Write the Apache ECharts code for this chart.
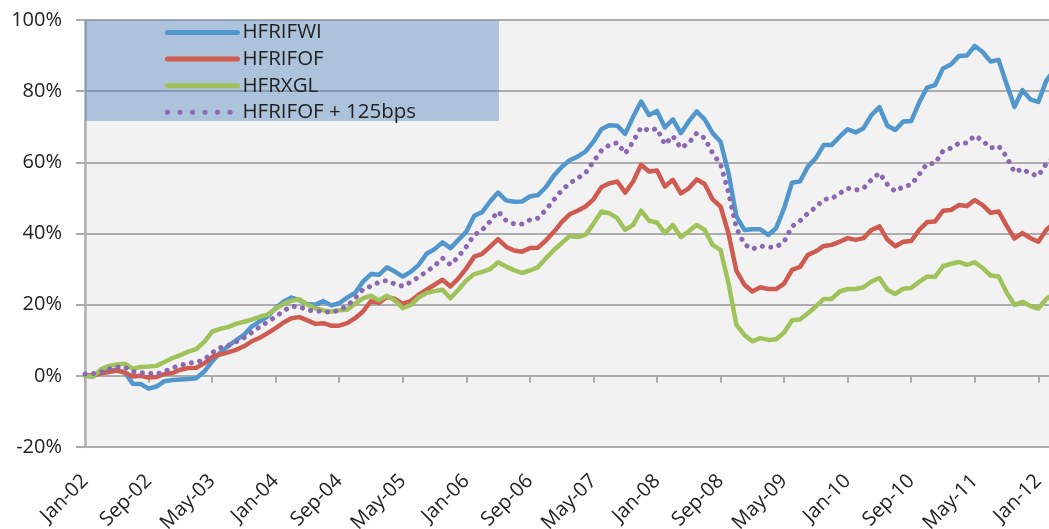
<!DOCTYPE html>
<html>
<head>
<meta charset="utf-8">
<script src="https://cdn.jsdelivr.net/npm/echarts@6/dist/echarts.min.js"></script>
<style>
html,body{margin:0;padding:0;background:#fff;}
#chart{width:1049px;height:529px;}
</style>
</head>
<body>
<div id="chart"></div>
<script>
const categories = [
'Jan-02','Feb-02','Mar-02','Apr-02','May-02','Jun-02','Jul-02','Aug-02','Sep-02','Oct-02','Nov-02','Dec-02',
'Jan-03','Feb-03','Mar-03','Apr-03','May-03','Jun-03','Jul-03','Aug-03','Sep-03','Oct-03','Nov-03','Dec-03',
'Jan-04','Feb-04','Mar-04','Apr-04','May-04','Jun-04','Jul-04','Aug-04','Sep-04','Oct-04','Nov-04','Dec-04',
'Jan-05','Feb-05','Mar-05','Apr-05','May-05','Jun-05','Jul-05','Aug-05','Sep-05','Oct-05','Nov-05','Dec-05',
'Jan-06','Feb-06','Mar-06','Apr-06','May-06','Jun-06','Jul-06','Aug-06','Sep-06','Oct-06','Nov-06','Dec-06',
'Jan-07','Feb-07','Mar-07','Apr-07','May-07','Jun-07','Jul-07','Aug-07','Sep-07','Oct-07','Nov-07','Dec-07',
'Jan-08','Feb-08','Mar-08','Apr-08','May-08','Jun-08','Jul-08','Aug-08','Sep-08','Oct-08','Nov-08','Dec-08',
'Jan-09','Feb-09','Mar-09','Apr-09','May-09','Jun-09','Jul-09','Aug-09','Sep-09','Oct-09','Nov-09','Dec-09',
'Jan-10','Feb-10','Mar-10','Apr-10','May-10','Jun-10','Jul-10','Aug-10','Sep-10','Oct-10','Nov-10','Dec-10',
'Jan-11','Feb-11','Mar-11','Apr-11','May-11','Jun-11','Jul-11','Aug-11','Sep-11','Oct-11','Nov-11','Dec-11',
'Jan-12','Feb-12','Mar-12'
];

const seriesNames = ['HFRIFWI', 'HFRIFOF', 'HFRXGL', 'HFRIFOF + 125bps'];

const hfrifwi = [
0,-0.2,1.0,1.4,1.7,1.0,-2.2,-2.3,-3.6,-3.0,-1.5,-1.2,
-1.0,-0.9,-0.7,1.2,4.0,6.5,8.3,10.0,11.5,13.9,15.3,16.7,
19.0,20.9,22.0,21.2,20.2,20.0,21.0,19.8,20.4,22.0,23.3,26.5,
28.6,28.4,30.5,29.3,27.9,29.2,31.2,34.3,35.6,37.5,35.9,38.2,
40.5,45.0,46.0,49.0,51.5,49.3,48.9,49.0,50.4,50.8,53.0,56.2,
58.7,60.6,61.6,63.0,65.8,69.3,70.4,70.3,68.0,72.8,77.1,73.3,
74.4,69.8,72.1,68.2,71.5,74.3,72.1,68.2,65.8,57.0,44.8,41.0,
41.2,41.2,39.6,41.5,47.1,54.3,54.6,58.8,61.2,64.9,64.9,67.2,
69.3,68.4,69.6,73.3,75.5,70.3,69.1,71.5,71.6,76.8,81.0,81.7,
86.4,87.5,89.9,90.0,92.7,91.0,88.3,88.8,82.0,75.6,80.3,77.7,
77.0,82.9,86.0
];

const hfrifof = [
0.2,0.1,0.7,1.1,1.5,0.9,-0.2,0.0,-0.5,-0.3,0.5,0.8,
1.7,2.2,2.3,3.5,5.3,6.0,6.6,7.3,8.3,9.7,10.7,12.0,
13.4,15.0,16.2,16.5,15.6,14.6,14.8,14.1,14.1,14.8,16.2,18.1,
21.0,20.5,22.2,21.6,20.3,21.0,22.8,24.2,25.6,27.0,25.1,27.4,
30.2,33.5,34.3,36.3,38.4,36.3,35.2,34.9,35.9,36.0,38.0,40.4,
43.2,45.4,46.4,47.6,49.6,53.0,54.1,54.6,51.5,54.6,59.3,57.4,
57.7,53.2,55.1,51.3,52.7,55.2,53.9,49.6,47.6,40.0,29.5,25.6,
23.7,24.9,24.4,24.4,25.9,29.8,30.6,34.0,35.0,36.5,36.8,37.7,
38.7,38.2,38.7,41.0,42.0,38.3,36.4,37.7,37.9,41.0,43.2,43.4,
46.4,46.6,48.0,47.7,49.4,48.0,45.8,46.2,42.2,38.6,40.1,38.7,
37.7,41.0,43.0
];

const hfrxgl = [
0,-0.2,1.8,2.8,3.2,3.4,2.0,2.5,2.6,2.8,3.9,5.0,
5.8,6.8,7.5,9.5,12.4,13.2,13.7,14.6,15.2,15.8,16.6,17.2,
18.9,20.2,21.1,21.5,20.0,19.0,18.4,18.1,18.4,18.6,20.3,21.8,
22.5,21.2,22.5,21.2,19.0,19.9,22.0,23.3,23.8,24.2,21.8,24.2,
26.8,28.6,29.2,30.0,31.9,30.7,29.7,28.9,29.6,30.5,33.0,35.3,
37.3,39.3,39.0,39.6,42.7,46.2,45.7,44.3,41.0,42.4,46.4,43.6,
43.1,40.1,42.4,39.0,40.6,42.4,41.0,36.8,35.4,26.0,14.3,11.5,
9.7,10.6,10.1,10.3,12.2,15.6,15.8,17.6,19.5,21.6,21.6,23.7,
24.4,24.4,24.9,26.5,27.5,24.2,23.0,24.5,24.7,26.4,27.9,27.8,
30.8,31.5,32.0,31.2,31.9,30.3,28.2,27.9,23.5,19.9,20.8,19.6,
18.9,21.6,23.0
];

const hfrifofPlus = [
0.5,0.6,1.0,1.9,2.5,2.4,1.2,0.9,0.7,0.5,1.2,2.2,
2.9,3.6,3.8,4.5,6.5,7.9,8.5,9.5,10.7,12.2,13.8,15.2,
16.6,18.3,19.5,19.4,18.5,18.2,18.1,17.8,18.5,19.6,21.8,24.3,
25.2,26.3,26.8,25.8,25.2,26.3,27.8,29.3,30.9,33.1,31.2,33.5,
36.3,39.6,41.0,43.4,46.2,43.6,42.7,42.7,43.8,44.3,46.6,49.4,
52.1,54.1,55.5,57.0,60.2,63.3,64.9,65.5,62.5,65.8,69.8,68.9,
69.5,65.0,67.4,64.0,65.4,68.2,66.8,62.6,59.5,51.5,41.5,37.0,
35.6,36.5,36.1,36.2,37.7,42.0,43.5,45.7,47.4,49.6,49.8,51.3,
52.7,52.2,52.7,55.1,57.0,53.8,51.8,53.2,53.7,56.6,59.6,59.7,
63.2,64.0,65.4,65.4,67.5,66.1,64.0,64.6,61.6,57.2,58.2,56.8,
56.2,59.6,61.5
];

const yTicks = [-20, 0, 20, 40, 60, 80, 100];

const colors = ['#5196cd', '#cf5a50', '#a0c25a', '#8c68b2'];
const FONT = 'Open Sans';
const TXT = '#222222';
const GRIDC = '#acacac';

const chart = echarts.init(document.getElementById('chart'), null, {renderer: 'canvas'});

const lineW = 4.5;
const dotDash = [0.1, 8.4];
const hideSym = {color: 'rgba(0,0,0,0)', borderWidth: 0, opacity: 0};

chart.setOption({
  animation: false,
  backgroundColor: '#ffffff',
  color: colors,
  grid: {
    left: 85, top: 20, right: -5.2, bottom: 82,
    show: true, backgroundColor: '#f2f2f2', borderWidth: 0,
    containLabel: false, outerBoundsMode: 'none'
  },
  graphic: [{
    type: 'rect', z: 1, silent: true,
    shape: {x: 85, y: 20, width: 414, height: 101},
    style: {fill: 'rgba(79,129,189,0.42)'}
  }],
  legend: {
    orient: 'vertical', left: 165, top: 22, padding: 0,
    itemWidth: 70, itemHeight: 20, itemGap: 5.6,
    textStyle: {fontFamily: FONT, fontSize: 20.5, color: TXT, lineHeight: 20},
    data: [
      {name: seriesNames[0], itemStyle: hideSym, lineStyle: {width: 5, cap: 'round'}},
      {name: seriesNames[1], itemStyle: hideSym, lineStyle: {width: 5, cap: 'round'}},
      {name: seriesNames[2], itemStyle: hideSym, lineStyle: {width: 5, cap: 'round'}},
      {name: seriesNames[3], itemStyle: hideSym, lineStyle: {width: 5, cap: 'round', type: [0.1, 12.4]}}
    ]
  },
  xAxis: [{
    type: 'category', data: categories, boundaryGap: false, position: 'bottom',
    axisLine: {show: false, onZero: false},
    axisTick: {show: false},
    splitLine: {show: false},
    axisLabel: {interval: 7, rotate: 45, margin: 31, fontFamily: FONT, fontSize: 20, color: TXT}
  }, {
    type: 'category', data: categories, boundaryGap: false, position: 'bottom',
    axisLine: {show: true, onZero: true, lineStyle: {color: GRIDC, width: 2}},
    axisTick: {show: true, interval: 7, length: 7, lineStyle: {color: GRIDC, width: 2}},
    splitLine: {show: false},
    axisLabel: {show: false}
  }],
  yAxis: {
    type: 'value', min: -20, max: 100, interval: 20,
    axisLine: {show: true, lineStyle: {color: GRIDC, width: 2.5}},
    axisTick: {show: true, length: 9, lineStyle: {color: GRIDC, width: 2}},
    splitLine: {show: true, lineStyle: {color: GRIDC, width: 2}},
    axisLabel: {
      margin: 23, fontFamily: FONT, fontSize: 20, color: TXT, padding: [6, 0, 0, 0],
      formatter: function (v) { return yTicks.indexOf(v) >= 0 ? v + '%' : ''; }
    }
  },
  series: [
    {name: seriesNames[0], type: 'line', data: hfrifwi, symbol: 'none', z: 3,
     lineStyle: {width: lineW, color: colors[0], join: 'round', cap: 'round'}},
    {name: seriesNames[1], type: 'line', data: hfrifof, symbol: 'none', z: 3,
     lineStyle: {width: lineW, color: colors[1], join: 'round', cap: 'round'}},
    {name: seriesNames[2], type: 'line', data: hfrxgl, symbol: 'none', z: 3,
     lineStyle: {width: lineW, color: colors[2], join: 'round', cap: 'round'}},
    {name: seriesNames[3], type: 'line', data: hfrifofPlus, symbol: 'none', z: 3,
     lineStyle: {width: 5, color: colors[3], type: dotDash, cap: 'round', join: 'round'}}
  ]
});
</script>
</body>
</html>
